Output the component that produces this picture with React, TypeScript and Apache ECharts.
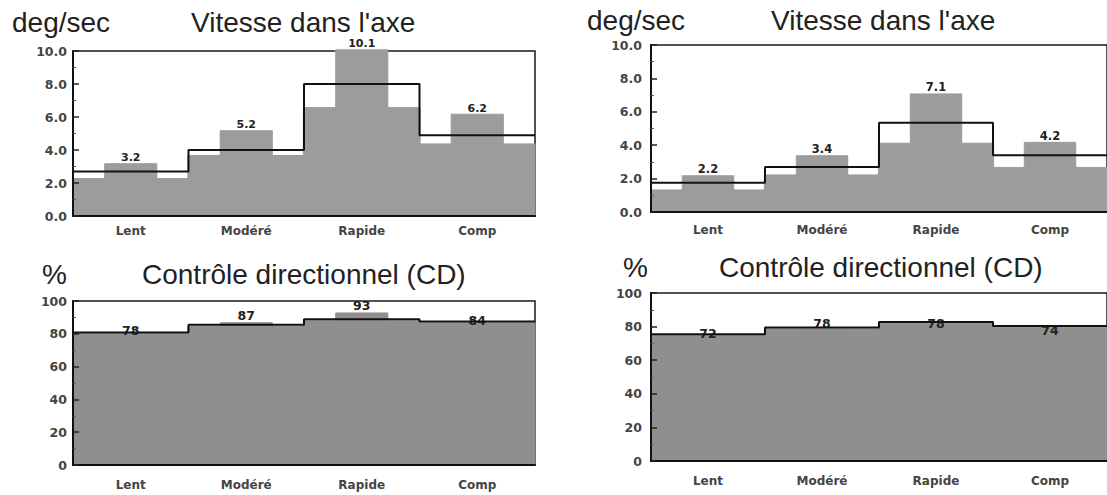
import React, { useEffect, useRef } from "react";
import * as echarts from "echarts";

const categories = ["Lent", "Modéré", "Rapide", "Comp"];

// Vitesse dans l'axe (deg/sec) – left and right panels
const speedLeftBars = [3.2, 5.2, 10.1, 6.2];
const speedLeftLower = [2.3, 3.7, 6.6, 4.4];
const speedLeftUpper = [2.7, 4.0, 8.0, 4.9];
const speedRightBars = [2.2, 3.4, 7.1, 4.2];
const speedRightLower = [1.35, 2.25, 4.15, 2.7];
const speedRightUpper = [1.75, 2.7, 5.35, 3.4];

// Contrôle directionnel (%) – left and right panels
const cdLeftBars = [78, 87, 93, 84];
const cdLeftLower = [80.3, 85, 88.3, 87];
const cdLeftUpper = [80.8, 85.5, 88.8, 87.5];
const cdRightBars = [72, 78, 78, 74];
const cdRightLower = [75, 79, 82.3, 79.8];
const cdRightUpper = [75.5, 79.5, 82.8, 80.3];

const speedTitle = "Vitesse dans l'axe";
const speedUnit = "deg/sec";
const cdTitle = "Contrôle directionnel (CD)";
const cdUnit = "%";

const GRAY_TOP = "#9c9c9c";
const GRAY_BOTTOM = "#8f8f8f";

const panels = [
  { left: 73, top: 51, width: 462, height: 165, max: 10, interval: 2, dec: 1, yMargin: 6, xMargin: 9, labelSize: 11, bars: speedLeftBars, lower: speedLeftLower, upper: speedLeftUpper, gray: GRAY_TOP },
  { left: 651, top: 45, width: 460, height: 167, max: 10, interval: 2, dec: 1, yMargin: 9, xMargin: 12, labelSize: 11.5, bars: speedRightBars, lower: speedRightLower, upper: speedRightUpper, gray: GRAY_TOP },
  { left: 73, top: 301, width: 462, height: 164, max: 100, interval: 20, dec: 0, yMargin: 6, xMargin: 14, labelSize: 12.5, bars: cdLeftBars, lower: cdLeftLower, upper: cdLeftUpper, gray: GRAY_BOTTOM },
  { left: 651, top: 293, width: 460, height: 168, max: 100, interval: 20, dec: 0, yMargin: 9, xMargin: 14, labelSize: 12.5, bars: cdRightBars, lower: cdRightLower, upper: cdRightUpper, gray: GRAY_BOTTOM },
];

const titles = [
  { text: speedUnit, x: 12, y: 30 },
  { text: speedTitle, x: 191, y: 30 },
  { text: speedUnit, x: 587, y: 28 },
  { text: speedTitle, x: 771, y: 28 },
  { text: cdUnit, x: 42, y: 282 },
  { text: cdTitle, x: 142, y: 282 },
  { text: cdUnit, x: 623, y: 275 },
  { text: cdTitle, x: 719, y: 275 },
];

export default function App() {
  const ref = useRef<HTMLDivElement>(null);
  useEffect(() => {
    if (!ref.current) return;
    const chart = echarts.init(ref.current, null, { renderer: "svg" });
    const labelFont = { fontFamily: "DejaVu Sans", fontWeight: "bold" as const, fontSize: 12, color: "#444" };

    const grid: any[] = [];
    const xAxis: any[] = [];
    const yAxis: any[] = [];
    const series: any[] = [];

    panels.forEach((p, i) => {
      grid.push({
        left: p.left, top: p.top, width: p.width, height: p.height,
        show: true, borderColor: "#1a1a1a", borderWidth: 1.5, backgroundColor: "transparent",
      });
      xAxis.push({
        type: "category", gridIndex: i, data: categories, boundaryGap: true, z: 10,
        axisLine: { lineStyle: { color: "#111", width: 2 } },
        axisTick: { alignWithLabel: true, length: 5, lineStyle: { color: "#333" } },
        axisLabel: { ...labelFont, margin: p.xMargin },
        splitLine: { show: false },
      });
      xAxis.push({ type: "category", gridIndex: i, data: categories, show: false });
      xAxis.push({ type: "value", gridIndex: i, min: 0, max: 4, show: false });
      yAxis.push({
        type: "value", gridIndex: i, min: 0, max: p.max, interval: p.interval, z: 10,
        axisLine: { show: true, lineStyle: { color: "#111", width: 2 } },
        axisTick: { show: true, inside: true, length: 6, lineStyle: { color: "#222", width: 1.5 } },
        minorTick: { show: true, splitNumber: 2, length: 3, lineStyle: { color: "#555" } },
        splitLine: { show: false },
        axisLabel: { ...labelFont, fontSize: 12.5, margin: p.yMargin, formatter: (v: number) => v.toFixed(p.dec) },
      });
      series.push({
        type: "bar", xAxisIndex: 3 * i, yAxisIndex: i, data: p.lower, barWidth: "102%",
        itemStyle: { color: p.gray, borderColor: p.gray, borderWidth: 1 }, silent: true, z: 1,
      });
      series.push({
        type: "bar", xAxisIndex: 3 * i + 1, yAxisIndex: i, data: p.bars, barWidth: "46%", clip: false,
        itemStyle: { color: p.gray, borderColor: p.gray, borderWidth: 1 }, z: 2,
        label: {
          show: true, position: "top", distance: 0,
          fontFamily: "DejaVu Sans", fontWeight: "bold", fontSize: p.labelSize, color: "#222",
          formatter: (d: any) => Number(d.value).toFixed(p.dec),
        },
      });
      series.push({
        type: "line", xAxisIndex: 3 * i + 2, yAxisIndex: i, step: "end", symbol: "none", z: 3,
        data: [...p.upper.map((u, k) => [k, u]), [4, p.upper[p.upper.length - 1]]],
        lineStyle: { color: "#111", width: 2 },
      });
    });

    chart.setOption({
      animation: false,
      backgroundColor: "#fff",
      grid, xAxis, yAxis, series,
      graphic: titles.map((t) => ({
        type: "text", x: t.x, y: t.y + 6,
        style: {
          text: t.text, fill: "#222", font: "28px 'Liberation Sans', Arial, sans-serif",
          textAlign: "left", textVerticalAlign: "bottom",
        },
      })),
    });
    return () => chart.dispose();
  }, []);
  return <div ref={ref} style={{ position: "fixed", left: 0, top: 0, width: 1107, height: 495, background: "#fff" }} />;
}
